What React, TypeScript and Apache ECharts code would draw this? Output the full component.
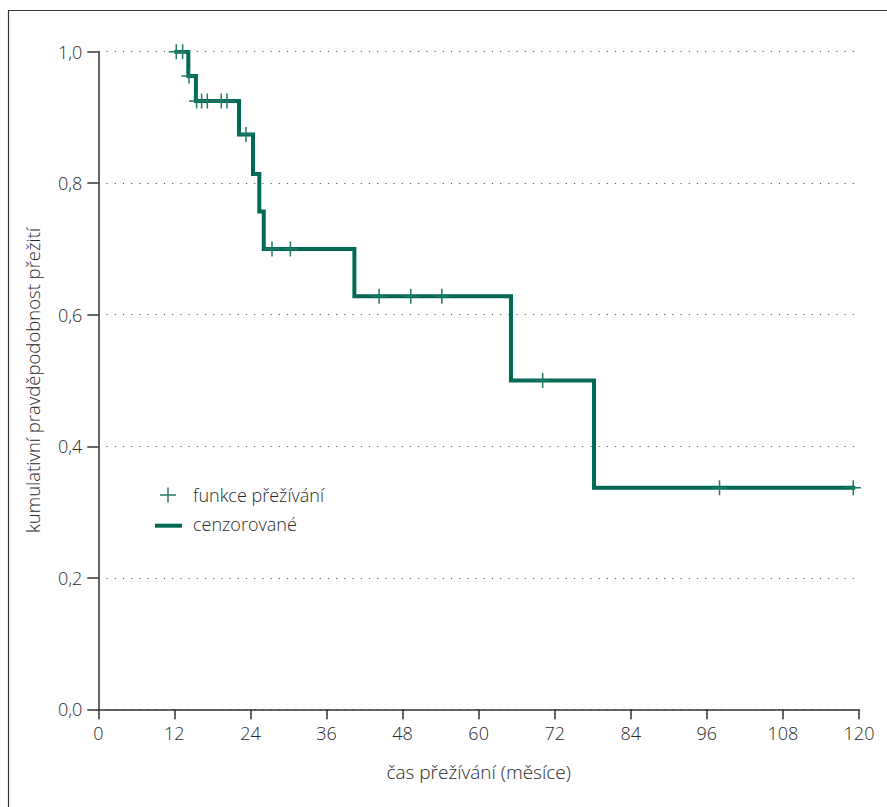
import React, { useEffect, useRef } from "react";
import * as echarts from "echarts";

// Kaplan–Meier step curve: [months, survival]
const stepTimes = [12.3, 14.2, 15.4, 22.2, 24.4, 25.4, 26.1, 40.4, 65.1, 78.2, 119.1];
const stepValues = [1.0, 0.963, 0.925, 0.874, 0.814, 0.757, 0.70, 0.628, 0.50, 0.337, 0.337];

// censored observations
const censorTimes = [12.3, 13.3, 14.3, 15.5, 16.3, 17.2, 19.4, 20.3, 23.3, 27.4, 30.3, 44.3, 49.3, 54.2, 70.1, 98.0, 119.1];
const censorValues = [1.0, 1.0, 0.963, 0.925, 0.925, 0.925, 0.925, 0.925, 0.874, 0.70, 0.70, 0.628, 0.628, 0.628, 0.50, 0.337, 0.337];

const xTicks = [0, 12, 24, 36, 48, 60, 72, 84, 96, 108, 120];
const yTicks = [0, 0.2, 0.4, 0.6, 0.8, 1.0];

const xTitle = "čas přežívání (měsíce)";
const yTitle = "kumulativní pravděpodobnost přežití";
const legendPlus = "funkce přežívání";
const legendLine = "cenzorované";

const FONT = "'Open Sans', 'Noto Sans', sans-serif";
const WEIGHT = 300;
const TEXT = "#2a2a2a";
const AXIS = "#333";
const CURVE = "#006a55";
const MARK = "#1f7a66";

const PLUS = "path://M-0.1,-1 L0.1,-1 L0.1,-0.1 L1,-0.1 L1,0.1 L0.1,0.1 L0.1,1 L-0.1,1 L-0.1,0.1 L-1,0.1 L-1,-0.1 L-0.1,-0.1 Z";

export default function App() {
  const ref = useRef<HTMLDivElement>(null);
  useEffect(() => {
    if (!ref.current) return;
    const chart = echarts.init(ref.current, null, { renderer: "svg" });
    const lineData = stepTimes.map((t, i) => [t, stepValues[i]]);
    const censorData = censorTimes.map((t, i) => [t, censorValues[i]]);
    chart.setOption({
      animation: false,
      backgroundColor: "#fff",
      grid: { left: 98.3, right: 28, top: 51.7, bottom: 97.7, containLabel: false },
      xAxis: {
        type: "value",
        min: xTicks[0],
        max: xTicks[xTicks.length - 1],
        interval: 12,
        name: xTitle,
        nameLocation: "middle",
        nameGap: 53,
        nameTextStyle: { fontFamily: FONT, fontWeight: WEIGHT, fontSize: 19, color: TEXT },
        axisLine: { show: true, onZero: false, lineStyle: { color: AXIS, width: 1.5 } },
        axisTick: { show: true, length: 10, inside: false, lineStyle: { color: AXIS, width: 1.5 } },
        axisLabel: {
          margin: 15,
          fontFamily: FONT,
          fontWeight: WEIGHT,
          fontSize: 18,
          color: TEXT,
          formatter: (v: number) => String(v),
        },
        splitLine: { show: false },
      },
      yAxis: {
        type: "value",
        min: yTicks[0],
        max: yTicks[yTicks.length - 1],
        interval: 0.2,
        name: yTitle,
        nameLocation: "middle",
        nameGap: 56,
        nameRotate: 90,
        nameTextStyle: { fontFamily: FONT, fontWeight: WEIGHT, fontSize: 18.5, color: TEXT },
        axisLine: { show: true, lineStyle: { color: AXIS, width: 1.5 } },
        axisTick: { show: true, length: 11, inside: false, lineStyle: { color: AXIS, width: 1.5 } },
        axisLabel: {
          margin: 16,
          fontFamily: FONT,
          fontWeight: WEIGHT,
          fontSize: 18,
          color: TEXT,
          formatter: (v: number) => v.toFixed(1).replace(".", ","),
        },
        splitLine: {
          show: true,
          lineStyle: { color: "#555", width: 1.2, type: [1.2, 7] },
        },
      },
      series: [
        {
          name: legendLine,
          type: "line",
          step: "end",
          data: lineData,
          showSymbol: false,
          symbol: "none",
          lineStyle: { color: CURVE, width: 4, cap: "square", join: "miter" },
          z: 3,
        },
        {
          name: legendPlus,
          type: "scatter",
          data: censorData,
          symbol: PLUS,
          symbolSize: [15, 15],
          itemStyle: { color: MARK, opacity: 1 },
          z: 4,
        },
      ],
      graphic: [
        {
          type: "rect",
          shape: { x: 8.5, y: 10.5, width: 1000, height: 1000 },
          style: { fill: "none", stroke: "#333", lineWidth: 1.2 },
          silent: true,
          z: -1,
        },
        {
          type: "line",
          shape: { x1: 160, y1: 495, x2: 176, y2: 495 },
          style: { stroke: MARK, lineWidth: 1.5 },
        },
        {
          type: "line",
          shape: { x1: 168, y1: 487.5, x2: 168, y2: 502.5 },
          style: { stroke: MARK, lineWidth: 1.5 },
        },
        {
          type: "text",
          x: 193,
          y: 495,
          style: {
            text: legendPlus,
            fontFamily: FONT,
            fontWeight: WEIGHT,
            fontSize: 18,
            fill: TEXT,
            verticalAlign: "middle",
          },
        },
        {
          type: "line",
          shape: { x1: 155, y1: 525.7, x2: 182, y2: 525.7 },
          style: { stroke: CURVE, lineWidth: 4 },
        },
        {
          type: "text",
          x: 193,
          y: 524,
          style: {
            text: legendLine,
            fontFamily: FONT,
            fontWeight: WEIGHT,
            fontSize: 18,
            fill: TEXT,
            verticalAlign: "middle",
          },
        },
      ],
    });
    return () => chart.dispose();
  }, []);
  return (
    <div
      ref={ref}
      style={{ position: "fixed", left: 0, top: 0, width: 887, height: 807 }}
    />
  );
}
